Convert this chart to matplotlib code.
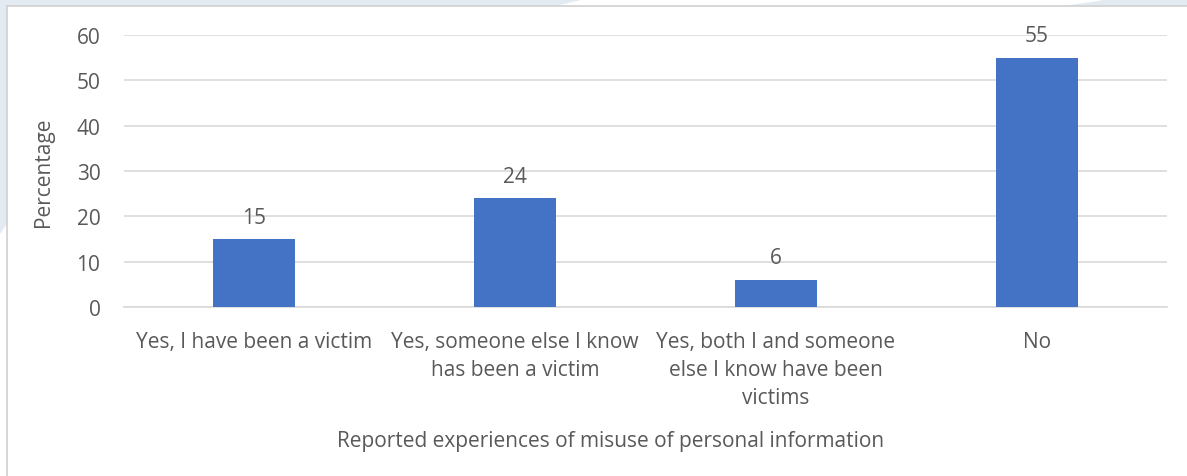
import matplotlib.pyplot as plt
from matplotlib.patches import Polygon
from matplotlib.lines import Line2D

categories = [
    "Yes, I have been a victim",
    "Yes, someone else I know\nhas been a victim",
    "Yes, both I and someone\nelse I know have been\nvictims",
    "No",
]
percentages = [15, 24, 6, 55]
y_ticks = [0, 10, 20, 30, 40, 50, 60]

W, H = 1187, 477
text_grey = "#595959"
bar_blue = "#4472C4"
grid_grey = "#D9D9D9"
bg_blue = "#E3EAF2"
fs = 15

plt.rcParams['font.family'] = ['Open Sans', 'DejaVu Sans']

fig = plt.figure(figsize=(W / 100, H / 100), dpi=100)
fig.patch.set_facecolor("white")


def px(x, y):
    # pixel coords (top-left origin) -> figure fraction
    return (x / W, 1 - y / H)


# page decoration behind the chart frame
fig.patches.append(Polygon([px(0, 0), px(585, 0), px(555, 7), px(7, 7), px(7, 225), px(0, 235)],
                           closed=True, transform=fig.transFigure, facecolor=bg_blue,
                           edgecolor="none", zorder=0))
fig.patches.append(Polygon([px(1065, 7), px(1110, 0), px(W, 0), px(W, 7)],
                           closed=True, transform=fig.transFigure, facecolor=bg_blue,
                           edgecolor="none", zorder=0))
fig.lines.append(Line2D([7 / W, 1], [1 - 7 / H, 1 - 7 / H], transform=fig.transFigure,
                        color="#D0D0D0", lw=1.2))
fig.lines.append(Line2D([7 / W, 7 / W], [0, 1 - 7 / H], transform=fig.transFigure,
                        color="#D0D0D0", lw=1.2))

left, right = 124 / W, 1167 / W
bottom, top = 1 - 308 / H, 1 - 36 / H
ax = fig.add_axes([left, bottom, right - left, top - bottom])

x = range(len(categories))
bars = ax.bar(x, percentages, width=0.315, color=bar_blue, zorder=3)

for b, v in zip(bars, percentages):
    ax.text(b.get_x() + b.get_width() / 2, v + 2.5, str(v), ha="center", va="bottom",
            fontsize=fs, color=text_grey)

ax.set_xlim(-0.5, len(categories) - 0.5)
ax.set_ylim(0, 60)
ax.set_yticks(y_ticks)
ax.set_xticks(list(x))
ax.set_xticklabels(categories, linespacing=1.45)
ax.tick_params(axis="both", length=0, colors=text_grey, labelsize=fs)
ax.tick_params(axis="y", pad=17)
ax.tick_params(axis="x", pad=17)
ax.grid(axis="y", color=grid_grey, lw=1.2, zorder=0)
for s in ["top", "right", "left"]:
    ax.spines[s].set_visible(False)
ax.spines["bottom"].set_color(grid_grey)
ax.spines["bottom"].set_linewidth(1.2)

ax.set_ylabel("Percentage", fontsize=fs, color=text_grey)
ax.yaxis.set_label_coords(-70 / 1043, 0.5)
fig.text(611 / W, 1 - 442 / H, "Reported experiences of misuse of personal information",
         ha="center", va="center", fontsize=fs, color=text_grey)

fig.savefig("out.png", dpi=100)
